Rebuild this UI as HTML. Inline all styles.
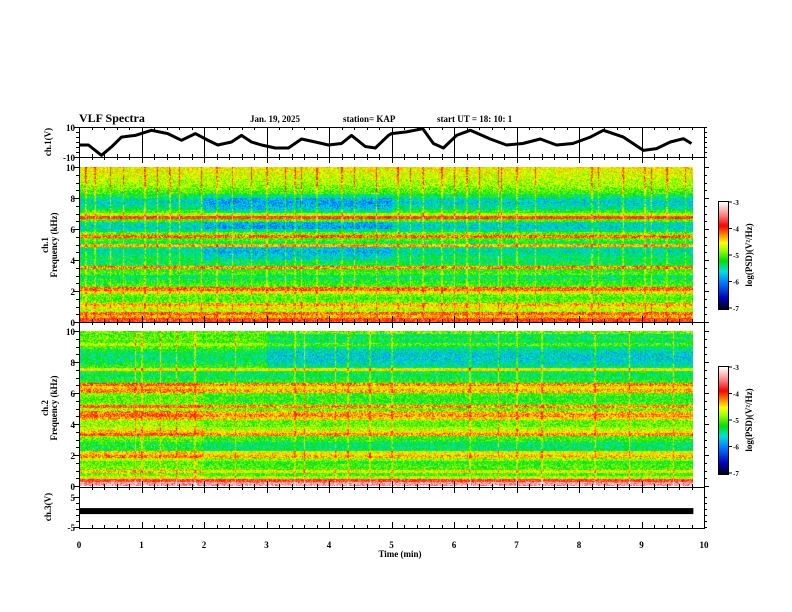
<!DOCTYPE html>
<html><head><meta charset="utf-8"><style>
html,body{margin:0;padding:0;background:#fff;}
#wrap{position:relative;width:792px;height:612px;overflow:hidden;font-family:"Liberation Serif",serif;font-weight:bold;}
canvas{position:absolute;}
svg{position:absolute;left:0;top:0;}
</style></head><body>
<div id="wrap">
<canvas id="spec1" style="left:79px;top:167px" width="614" height="155"></canvas>
<canvas id="spec2" style="left:79px;top:331px" width="614" height="155"></canvas>
<canvas id="cb1" style="left:719px;top:202px" width="9" height="107"></canvas>
<canvas id="cb2" style="left:719px;top:367px" width="9" height="107"></canvas>
<svg id="ax" width="792" height="612"></svg>
</div>
<script>
// ---------- data ----------
const waveTimes = [0,0.15,0.36,0.52,0.68,0.9,1.16,1.42,1.64,1.86,2.07,2.22,2.44,2.6,2.76,2.92,3.14,3.35,3.56,3.78,3.99,4.2,4.36,4.58,4.74,4.95,5.0,5.24,5.5,5.67,5.83,6.04,6.26,6.58,6.84,7.1,7.38,7.64,7.9,8.18,8.39,8.71,9.03,9.24,9.46,9.67,9.8];
const waveValues = [-2,-2,-8.9,-3.3,3.3,4.4,7.8,5.6,1.1,5.6,1,-2,0,4.4,0,-2,-4,-4,2,0,-2,-1,4.4,-3,-4,4.4,5.6,6.7,8.9,-1,-4,4.4,7.8,2,-2,-1,2,-2,-1,3.3,7.8,3.3,-5.6,-4.4,0,2.2,-1];
const ch3Value = 0.3;
const ch3End = 9.83;
const xTickLabels = ["0","1","2","3","4","5","6","7","8","9","10"];
const freqTickLabels = ["0","2","4","6","8","10"];
const cbTickLabels = ["-3","-4","-5","-6","-7"];
// spectrogram 1 : 50 bins of 0.2 kHz, bottom->top
const spec1Base = [-4.2,-4.6,-4.4,-5.0,-4.8,-4.6,-5.2,-5.3,-5.2,-4.8,-4.4,-5.3,-5.4,-5.5,-5.6,-5.3,-5.4,-4.5,-5.5,-5.6,-5.5,-5.6,-5.7,-5.6,-4.6,-5.5,-5.3,-4.4,-5.2,-5.7,-5.8,-5.7,-5.3,-4.2,-5.0,-5.3,-5.6,-5.7,-5.8,-5.7,-5.5,-5.3,-5.2,-5.1,-5.0,-5.0,-4.9,-4.9,-4.8,-4.8];
const spec1OffA = [-0.05,-0.05,-0.05,-0.05,-0.05,-0.05,-0.05,-0.05,-0.35,-0.35,-0.35,-0.35,-0.35,-0.35,-0.35,-0.35,-0.35,-0.35,-0.35,-0.35,-0.1,-0.1,-0.1,-0.1,-0.1,-0.1,-0.1,-0.1,-0.1,-0.1,-0.1,-0.1,-0.1,-0.1,-0.1,-0.1,-0.1,-0.1,-0.1,-0.1];
const spec1SensA = [0,0,0,0,0,0,0,0,0,0,0,0,0,0,0,0,0,0,0,0,1,1,1,1,0,0,0,0,0,0,1,1,0,0,0,1,1,1,1,1,0.5,0,0,0,0,0,0,0,0,0];
const spec1OffB = new Array(40).fill(0);
const spec1SensB = new Array(50).fill(0);
const spec1Streaks = [0.1,0.25,0.5,0.7,1.05,1.25,1.45,1.6,1.95,2.2,2.45,2.75,3.0,3.3,3.45,3.55,3.8,4.2,4.4,4.75,5.1,5.3,5.5,5.8,6.0,6.2,6.4,6.7,6.75,7.0,7.3,8.2,8.3,8.7,9.05,9.15,9.4,9.7];
// spectrogram 2
const spec2Base = [-3.6,-4.0,-5.0,-5.3,-4.8,-5.3,-5.3,-5.4,-5.1,-4.6,-4.8,-5.6,-5.6,-5.6,-5.4,-5.3,-4.5,-4.8,-5.0,-5.2,-5.2,-4.7,-4.5,-4.6,-5.2,-4.5,-5.3,-5.4,-5.4,-5.3,-4.6,-4.8,-4.5,-5.4,-5.5,-5.6,-5.5,-4.8,-5.4,-5.5,-5.6,-5.6,-5.6,-5.5,-5.3,-5.0,-5.3,-5.2,-5.3,-5.2];
const spec2OffA = [0.15,0.15,0.15,0.15,0.15,0.15,0.15,0.15,0,0,0,0,0,0,0,0,0,0,0,0,0,0,0,0,0,0,0,0,0,0,0,0,0,0,0,0,0,0,0,0];
const spec2SensA = [0,0,1,1,1,1,1,1,1,1,1,1,1,1,1,1,1,1,1,1,1,1,1,1,1,1,1,1,1,1,1,1,1,0,0,0,0,0,0,0,0,0,0,0,0,0,0,0,0,0];
const spec2OffB = [0,0,0,0,0,0,0,0,0,0,0,0,-0.3,-0.3,-0.3,-0.3,-0.3,-0.3,-0.3,-0.3,-0.3,-0.3,-0.3,-0.3,-0.3,-0.3,-0.3,-0.3,-0.3,-0.3,-0.3,-0.3,-0.3,-0.3,-0.3,-0.3,-0.3,-0.3,-0.3,-0.3];
const spec2SensB = [0,0,0,0,0,0,0,0,0,0,0,0,0,0,0,0,0,0,0,0,0,0,0,0,0,0,0,0,0,0,0,0,0,0,0,0,0,0,1,1,1,1,1,1,1,1,1,1,1,0];
const spec2Streaks = [0.9,1.0,1.3,1.55,1.85,2.5,3.45,3.6,4.1,4.3,4.65,5.0,6.25,6.7,7.0,7.4,8.25,8.8,9.5];

// ---------- helpers ----------
const X0=79, X1=704;
const LEVEL_SHIFT=0.25;
const xs = m => X0 + (X1-X0)*m/10;
const stops=[[0,[0,0,32]],[0.1,[0,0,192]],[0.25,[0,128,255]],[0.35,[0,224,224]],[0.45,[0,224,0]],[0.55,[160,255,0]],[0.62,[255,255,0]],[0.7,[255,128,0]],[0.78,[255,0,0]],[0.88,[255,128,128]],[1,[255,255,255]]];
function cmap(v){let t=(v+7)/4;t=Math.max(0,Math.min(1,t));
  for(let i=1;i<stops.length;i++){if(t<=stops[i][0]){const a=stops[i-1],b=stops[i],f=(t-a[0])/(b[0]-a[0]);
    return [0,1,2].map(k=>Math.round(a[1][k]+(b[1][k]-a[1][k])*f));}}return [255,255,255];}
function hash(x,y){let h=(x*374761393+y*668265263)|0;h=(h^(h>>>13))*1274126177|0;h=h^(h>>>16);return ((h>>>0)%1000)/1000;}
function drawSpec(id,base,offA,sensA,offB,sensB,streaks){
  const c=document.getElementById(id),ctx=c.getContext('2d'),W=c.width,H=c.height;
  const img=ctx.createImageData(W,H);
  for(let x=0;x<W;x++){const m=x/62.5;const seg=Math.min(39,Math.floor(m/0.25));
    let st=0;for(const s of streaks){const d=Math.abs(m-s);if(d<0.012)st=Math.max(st,1-d/0.024);}
    for(let y=0;y<H;y++){const f=(H-1-y)/H*10;const b=Math.min(49,Math.floor(f/0.2));
      const tex=(hash(x,y)-0.5)*0.7;
      let v=base[b]+LEVEL_SHIFT+offA[seg]*sensA[b]+offB[seg]*sensB[b]+tex+st*(0.5+0.6*hash(x,y*3+1))*(0.6+0.4*f/10);
      const col=cmap(v),i=(y*W+x)*4;img.data[i]=col[0];img.data[i+1]=col[1];img.data[i+2]=col[2];img.data[i+3]=255;}}
  ctx.putImageData(img,0,0);}
function drawCb(id){const c=document.getElementById(id),ctx=c.getContext('2d');
  for(let y=0;y<c.height;y++){const v=-3-4*y/(c.height-1);const col=cmap(v);ctx.fillStyle=`rgb(${col})`;ctx.fillRect(0,y,c.width,1);}}
drawSpec('spec1',spec1Base,spec1OffA,spec1SensA,spec1OffB,spec1SensB,spec1Streaks);
drawSpec('spec2',spec2Base,spec2OffA,spec2SensA,spec2OffB,spec2SensB,spec2Streaks);
drawCb('cb1');drawCb('cb2');

const svg=document.getElementById('ax');const NS='http://www.w3.org/2000/svg';
function el(tag,attrs,name,text){const e=document.createElementNS(NS,tag);for(const k in attrs)e.setAttribute(k,attrs[k]);
  
  
  if(text!==undefined)e.textContent=text;svg.appendChild(e);return e;}
function line(x1,y1,x2,y2,name,w){return el('line',{x1,y1,x2,y2,stroke:'#000','stroke-width':w||1},name);}
function txt(x,y,s,name,opt){opt=opt||{};return el('text',Object.assign({x,y,'font-size':opt.size||9,'font-family':'"Liberation Serif",serif','font-weight':'bold','text-anchor':opt.anchor||'start'},opt.extra||{}),name,s);}

const panels=[[127,157,'ch1-panel'],[157,322,'spec1-panel'],[322,487,'spec2-panel'],[487,528,'ch3-panel']];
panels.forEach(p=>{el('rect',{x:X0+0.5,y:p[0]+0.5,width:X1-X0,height:p[1]-p[0],fill:'none',stroke:'#000'},p[2]);
  for(let k=0;k<=50;k++){const m=k*0.2,x=Math.round(xs(m))+0.5,maj=k%5==0,L=maj?6:3;
    line(x,p[0],x,p[0]+L,'x-tick');line(x,p[1]-L,x,p[1],'x-tick');}});
for(let k=1;k<10;k++){const x=Math.round(xs(k))+0.5;line(x,127,x,157,'ch1-grid-line');}
txt(75,131,'10','ch1-ytick-label',{anchor:'end'});txt(75,161,'-10','ch1-ytick-label',{anchor:'end'});
[127,132,137,142,147,152,157].forEach((y,i)=>{line(X0,y+0.5,X0-(i%6==0?5:3),y+0.5,'ch1-ytick');line(X1,y+0.5,X1+3,y+0.5,'ch1-ytick');});
const wy=v=>127+(10-v)/20*30;
el('polyline',{points:waveTimes.map((t,i)=>xs(t).toFixed(1)+','+wy(waveValues[i]).toFixed(1)).join(' '),fill:'none',stroke:'#000','stroke-width':3,'stroke-linejoin':'round'},'ch1-waveform');
function freqAxis(top,bot,name){freqTickLabels.forEach((s,i)=>{const y=bot-(bot-top)*i/5;txt(75,y+4,s,name+'-label',{anchor:'end'});});
  for(let k=0;k<=20;k++){const y=Math.round(bot-(bot-top)*k/20)+0.5,maj=k%4==0;line(X0,y,X0-(maj?5:3),y,name);line(X1,y,X1+(maj?5:3),y,name);}}
freqAxis(167,322,'spec1-ytick');freqAxis(331,486,'spec2-ytick');
txt(75,501,'5','ch3-ytick-label',{anchor:'end'});txt(75,531,'-5','ch3-ytick-label',{anchor:'end'});
[497,503,509,515,521,527].forEach((y,i)=>{line(X0,y+0.5,X0-(i%5==0?5:3),y+0.5,'ch3-ytick');line(X1,y+0.5,X1+3,y+0.5,'ch3-ytick');});
const cy=v=>512-v*3;
el('rect',{x:X0,y:cy(ch3Value)-3,width:xs(ch3End)-X0,height:6,fill:'#000'},'ch3-signal-bar');
xTickLabels.forEach((s,i)=>txt(xs(i),548,s,'x-tick-label',{anchor:'middle'}));
txt(400,557,'Time  (min)','x-axis-title',{anchor:'middle'});
txt(79,122,'VLF Spectra','chart-title',{size:12});
txt(250,122,'Jan. 19, 2025','date-label');
txt(343,122,'station= KAP','station-label');
txt(437,122,'start  UT  =   18: 10: 1','start-time-label');
function vtxt(x,y,s,name){txt(x,y,s,name,{anchor:'middle',extra:{transform:`rotate(-90 ${x} ${y})`}});}
vtxt(51,142,'ch.1(V)','ch1-y-title');
vtxt(48,245,'ch.1','spec1-channel-title');vtxt(57,245,'Frequency  (kHz)','spec1-y-title');
vtxt(48,408,'ch.2','spec2-channel-title');vtxt(57,408,'Frequency  (kHz)','spec2-y-title');
vtxt(51,507,'ch.3(V)','ch3-y-title');
function cbAxis(top,name){el('rect',{x:718.5,y:top-0.5,width:10,height:108,fill:'none',stroke:'#000'},name+'-frame');
  cbTickLabels.forEach((s,i)=>{const y=top+i*26.5;line(728,y,732,y,name+'-tick');txt(733,y+3,s,name+'-label',{size:7});});
  vtxt(752,top+53,'log(PSD)(V²/Hz)',name+'-title');}
cbAxis(202,'cb1');cbAxis(367,'cb2');
</script>
</body></html>
